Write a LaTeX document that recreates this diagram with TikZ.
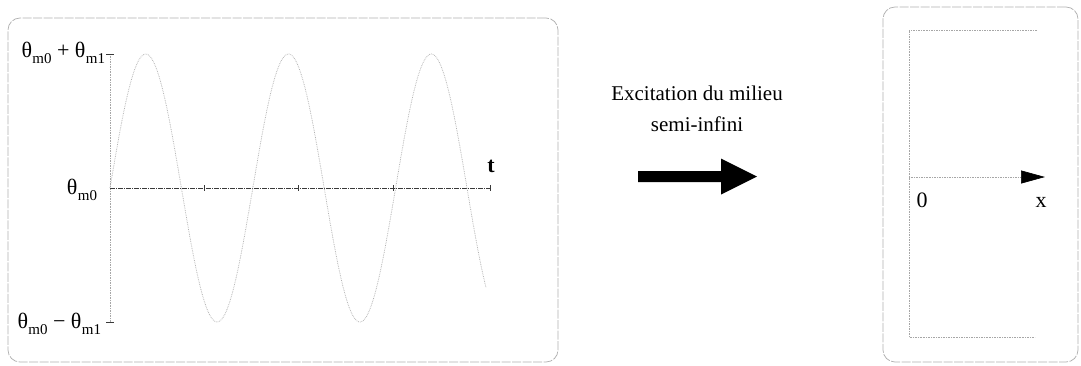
\documentclass[tikz,border=0pt]{standalone}
\usepackage{fontspec}
\setmainfont{Liberation Serif}
\usetikzlibrary{arrows.meta,calc}
\newcommand\thsub[1]{θ\kern0.3pt\raisebox{-0.3em}{\fontsize{15}{15}\selectfont #1}}
\begin{document}
\begin{tikzpicture}[x=1pt,y=-1pt,
  panel/.style={draw=gray!60, line width=0.75pt, dash pattern=on 9pt off 1.5pt, rounded corners=12pt, inner sep=0pt, outer sep=0pt},
  ax/.style={draw=gray!70, line width=0.65pt, densely dotted},
  haxis/.style={draw=gray!45!black, line width=0.65pt, dash pattern=on 5pt off 1pt on 1pt off 1pt},
  wave/.style={draw=gray!60, line width=0.75pt, densely dotted},
  tickm/.style={draw=gray!45!black, line width=0.6pt},
  lbl/.style={font=\fontsize{22}{26}\selectfont, inner sep=0pt, outer sep=0pt}]
\useasboundingbox (0,0) rectangle (1081,365);
\fill[white] (0,0) rectangle (1081,365);
% panels
\node[panel, minimum width=550pt, minimum height=344pt, anchor=north west] (leftpanel) at (8,18) {};
\node[panel, minimum width=195pt, minimum height=355pt, anchor=north west] (rightpanel) at (883,7) {};
% left plot
\coordinate (O) at (110,188);
\coordinate (Ytop) at (110,54);
\coordinate (Ybot) at (110,322);
\coordinate (Tend) at (490,188);
\draw[ax] (Ytop) -- (Ybot);
\draw[tickm] ($(Ytop)+(-4,0)$) -- ($(Ytop)+(4,0)$);
\draw[tickm] ($(Ybot)+(-4,0)$) -- ($(Ybot)+(4,0)$);
\draw[haxis] (O) -- (Tend);
\foreach \xx in {204,298,393,490} \draw[tickm] (\xx,185) -- (\xx,191);
\draw[wave] plot[domain=0:376, samples=240] ({110+\x},{188-134*sin(\x/142.8*360)});
\node[lbl, anchor=base east] (ltop) at (105,57) {\thsub{m0} + \thsub{m1}};
\node[lbl, anchor=base east] (lmid) at (97,194) {\thsub{m0}};
\node[lbl, anchor=base east] (lbot) at (101,328) {\thsub{m0} − \thsub{m1}};
\node[lbl, anchor=base, font=\fontsize{22}{24}\selectfont\bfseries] (tl) at (491,172) {t};
% middle
\node[lbl, anchor=base, font=\fontsize{21}{24}\selectfont] (ex1) at (697,100) {Excitation du milieu};
\node[lbl, anchor=base, font=\fontsize{21}{24}\selectfont] (ex2) at (697,131) {semi-infini};
\coordinate (aS) at (638,176.5);
\coordinate (aE) at (757,176.5);
\fill[black] ($(aS)+(0,-5.5)$) -- ($(aE)+(-36,-5.5)$) -- ($(aE)+(-36,-18)$) -- (aE) -- ($(aE)+(-36,18)$) -- ($(aE)+(-36,5.5)$) -- ($(aS)+(0,5.5)$) -- cycle;
% right plot
\coordinate (RO) at (909,177);
\coordinate (RT) at (909,30);
\coordinate (RB) at (909,337);
\coordinate (RTe) at (1037,30);
\coordinate (RBe) at (1035,337);
\coordinate (RX) at (1045,177);
\draw[ax] (RTe) -- (RT) -- (RB) -- (RBe);
\draw[ax, -{Triangle[length=24pt,width=13pt,color=black]}] (RO) -- (RX);
\node[lbl, anchor=base] (zero) at (922,207) {0};
\node[lbl, anchor=base] (xl) at (1041,207) {x};
\end{tikzpicture}
\end{document}
